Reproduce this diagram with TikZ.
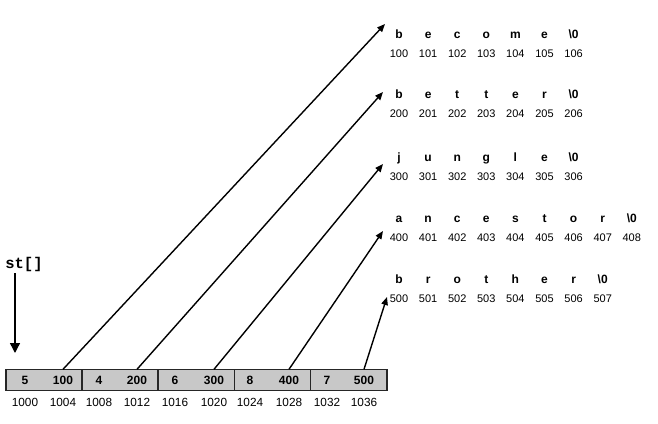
\documentclass[tikz,border=0pt]{standalone}
\usepackage{fontspec}
\setmainfont{Liberation Sans}
\newfontfamily\monob{Liberation Mono}
\usetikzlibrary{arrows.meta}
\definecolor{cellgray}{RGB}{200,200,200}
\tikzset{
  groupbox/.style={draw=black!85, line width=1.5pt, fill=cellgray, minimum width=76.2pt, minimum height=21pt, inner sep=0pt, anchor=west},
  val/.style={font=\fontsize{12}{13}\selectfont\bfseries, inner sep=0pt, minimum height=21pt},
  addr/.style={font=\fontsize{11.8}{13}\selectfont, inner sep=0pt},
  ch/.style={font=\fontsize{12}{13}\selectfont\bfseries, inner sep=0pt, text height=6pt, text depth=0pt},
  num/.style={font=\fontsize{11}{12}\selectfont, inner sep=0pt},
  ptr/.style={-{Triangle[length=8pt,width=6.5pt]}, line width=1.4pt},
  downptr/.style={-{Triangle[length=10pt,width=10pt]}, line width=1.4pt},
}
\begin{document}
\begin{tikzpicture}[x=1pt,y=-1pt]
\useasboundingbox (0,0) rectangle (658,423);
% array groups
\foreach \i in {0,...,4} {
  \node[groupbox] (g\i) at ({5+76.2*\i},380) {};
}
% values
\node[val] (a0) at (25,380) {5};
\node[val] (p0) at (63,380) {100};
\node[val] (a1) at (99,380) {4};
\node[val] (p1) at (137,380) {200};
\node[val] (a2) at (175,380) {6};
\node[val] (p2) at (214,380) {300};
\node[val] (a3) at (250,380) {8};
\node[val] (p3) at (289,380) {400};
\node[val] (a4) at (327,380) {7};
\node[val] (p4) at (364,380) {500};
% addresses
\foreach \x/\t [count=\k] in {25/1000,63/1004,99/1008,137/1012,175/1016,214/1020,250/1024,289/1028,327/1032,364/1036} {
  \node[addr] (m\k) at (\x,402) {\t};
}
% st[] label and arrow
\node[font=\monob\fontsize{15.5}{16}\selectfont\bfseries, inner sep=0pt] (st) at (24,264) {st[]};
\coordinate (stbase) at (15,273);
\coordinate (sttip) at (15,353);
\draw[downptr] (stbase) -- (sttip);
% strings
\foreach \s/\y/\base/\row in {%
  {b,e,c,o,m,e,\textbackslash 0}/35/100/1,%
  {b,e,t,t,e,r,\textbackslash 0}/95/200/2,%
  {j,u,n,g,l,e,\textbackslash 0}/158/300/3,%
  {a,n,c,e,s,t,o,r,\textbackslash 0}/219/400/4,%
  {b,r,o,t,h,e,r,\textbackslash 0}/280/500/5} {
  \foreach \c [count=\j from 0] in \s {
    \pgfmathtruncatemacro{\n}{\base+\j}
    \node[ch] (c\row-\j) at ({399+29.1*\j},\y) {\c};
    \node[num] (n\row-\j) at ({399+29.1*\j},\y+18.5) {\n};
  }
}
% pointer arrow tips
\coordinate (t1) at (385,24);
\coordinate (t2) at (383,92);
\coordinate (t3) at (383,164);
\coordinate (t4) at (383,231);
\coordinate (t5) at (387,297);
\draw[ptr] (p0.north) -- (t1);
\draw[ptr] (p1.north) -- (t2);
\draw[ptr] (p2.north) -- (t3);
\draw[ptr] (p3.north) -- (t4);
\draw[ptr] (p4.north) -- (t5);
\end{tikzpicture}
\end{document}
